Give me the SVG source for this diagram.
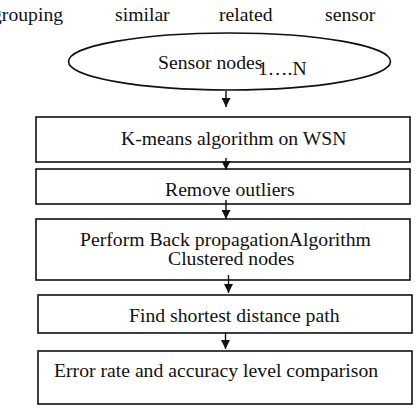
<svg xmlns="http://www.w3.org/2000/svg" width="417" height="410" viewBox="0 0 417 410">
<defs>
<style>
text{font-family:"Liberation Serif","Times New Roman",serif;font-size:19.7px;fill:#111}
.box{fill:#fff;stroke:#111;stroke-width:1.6}
.conn line{stroke:#111;stroke-width:1.4}
</style>
<marker id="ah" markerWidth="9" markerHeight="9" refX="9" refY="4.5" orient="auto" markerUnits="userSpaceOnUse">
<path d="M0,0 L9,4.5 L0,9 Z" fill="#111"/>
</marker>
</defs>
<rect width="417" height="410" fill="#fff"/>
<g id="header">
<text x="-8" y="21">grouping</text>
<text x="115" y="21">similar</text>
<text x="219" y="21">related</text>
<text x="325" y="21">sensor</text>
</g>
<g id="n0">
<ellipse class="box" cx="229.5" cy="61.5" rx="161" ry="28.5"/>
<text x="158" y="69">Sensor nodes</text>
<text x="258" y="75">1….N</text>
</g>
<g id="n1">
<rect class="box" x="36" y="117" width="374" height="45"/>
<text x="121" y="145">K-means algorithm on WSN</text>
</g>
<g id="n2">
<rect class="box" x="36" y="169" width="374" height="35"/>
<text x="165" y="196">Remove outliers</text>
</g>
<g id="n3">
<rect class="box" x="36" y="219" width="374" height="61"/>
<text x="80" y="246">Perform Back propagationAlgorithm</text>
<text x="168" y="265">Clustered nodes</text>
</g>
<g id="n4">
<rect class="box" x="38" y="295" width="374" height="38"/>
<text x="129" y="322">Find shortest distance path</text>
</g>
<g id="n5">
<rect class="box" x="38" y="351" width="374" height="53"/>
<text x="54" y="377">Error rate and accuracy level comparison</text>
</g>
<g class="conn" id="connectors">
<line x1="226" y1="91" x2="226" y2="107" marker-end="url(#ah)"/>
<line x1="226" y1="158" x2="226" y2="170" marker-end="url(#ah)"/>
<line x1="226" y1="200" x2="226" y2="219" marker-end="url(#ah)"/>
<line x1="228.5" y1="275" x2="228.5" y2="293" marker-end="url(#ah)"/>
<line x1="225.5" y1="332" x2="225.5" y2="349" marker-end="url(#ah)"/>
</g>
</svg>
